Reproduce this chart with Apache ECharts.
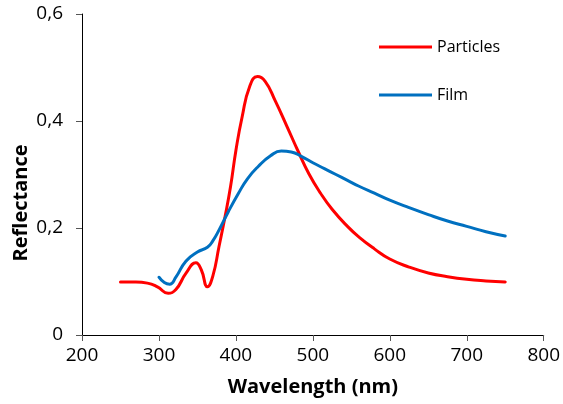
<!DOCTYPE html>
<html>
<head>
<meta charset="utf-8">
<script src="https://cdn.jsdelivr.net/npm/echarts@6/dist/echarts.min.js"></script>
<style>
  html, body { margin: 0; padding: 0; background: #fff; }
  #chart { width: 563px; height: 404px; }
</style>
</head>
<body>
<div id="chart"></div>
<script>
// Reflectance spectra: [wavelength (nm), reflectance]
const particles = [
  [250, 0.099], [270, 0.099], [285, 0.097], [298, 0.090], [312, 0.078],
  [322, 0.085], [335, 0.115], [348, 0.135], [355, 0.122], [363, 0.090],
  [370, 0.110], [378, 0.165], [386, 0.222], [393, 0.277], [400, 0.345],
  [408, 0.407], [418, 0.465], [428, 0.483], [438, 0.474], [451, 0.438],
  [466, 0.391], [481, 0.343], [495, 0.301], [510, 0.265], [525, 0.235],
  [545, 0.203], [560, 0.183], [580, 0.161], [600, 0.142], [625, 0.127],
  [650, 0.116], [675, 0.109], [700, 0.104], [725, 0.101], [750, 0.099]
];
const film = [
  [300, 0.108], [307, 0.098], [314, 0.095], [322, 0.108], [335, 0.138],
  [350, 0.155], [363, 0.164], [370, 0.176], [378, 0.196], [390, 0.230],
  [403, 0.264], [415, 0.292], [429, 0.315], [445, 0.335], [459, 0.344],
  [472, 0.342], [485, 0.334], [500, 0.322], [515, 0.311], [530, 0.300],
  [545, 0.289], [560, 0.278], [580, 0.265], [600, 0.252], [625, 0.238],
  [650, 0.225], [675, 0.213], [700, 0.203], [725, 0.193], [750, 0.185]
];
const seriesNames = ['Particles', 'Film'];
const seriesColors = ['#FF0000', '#0070C0'];
const xTitle = 'Wavelength (nm)';
const yTitle = 'Reflectance';

const FONT = 'Open Sans';
const chart = echarts.init(document.getElementById('chart'), null, { renderer: 'canvas' });

chart.setOption({
  animation: false,
  backgroundColor: '#fff',
  grid: { left: 82, right: 16, top: 14, bottom: 69, containLabel: false },
  xAxis: {
    type: 'value', min: 200, max: 800, interval: 100,
    name: xTitle, nameLocation: 'middle', nameGap: 42,
    nameTextStyle: { fontFamily: FONT, fontSize: 20, fontWeight: 'bold', color: '#000' },
    axisLine: { lineStyle: { color: '#000', width: 1 } },
    axisTick: { show: true, inside: false, length: 6, lineStyle: { color: '#555' } },
    axisLabel: { fontFamily: FONT, fontSize: 19, color: '#000', margin: 11 },
    splitLine: { show: false }
  },
  yAxis: {
    type: 'value', min: 0, max: 0.6, interval: 0.2,
    axisLine: { show: true, lineStyle: { color: '#000', width: 1 } },
    axisTick: { show: true, inside: false, length: 6, lineStyle: { color: '#555' } },
    axisLabel: {
      fontFamily: FONT, fontSize: 19, color: '#000', margin: 19,
      formatter: v => (v === 0 ? '0' : v.toFixed(1).replace('.', ','))
    },
    splitLine: { show: false }
  },
  legend: {
    orient: 'vertical', left: 379, top: 36, padding: 0,
    icon: 'rect', itemWidth: 53, itemHeight: 3, itemGap: 26,
    textStyle: { fontFamily: FONT, fontSize: 16, color: '#000', lineHeight: 22 },
    data: seriesNames
  },
  graphic: [{
    type: 'text', x: 21, y: 203, rotation: Math.PI / 2,
    style: {
      text: yTitle, fontFamily: FONT, fontSize: 20, fontWeight: 'bold', fill: '#000',
      align: 'center', verticalAlign: 'middle'
    }
  }],
  series: [particles, film].map((d, i) => ({
    name: seriesNames[i], type: 'line', data: d,
    smooth: 0.5, symbol: 'none',
    lineStyle: { color: seriesColors[i], width: 3, join: 'round', cap: 'round' },
    itemStyle: { color: seriesColors[i] }
  }))
});
</script>
</body>
</html>
